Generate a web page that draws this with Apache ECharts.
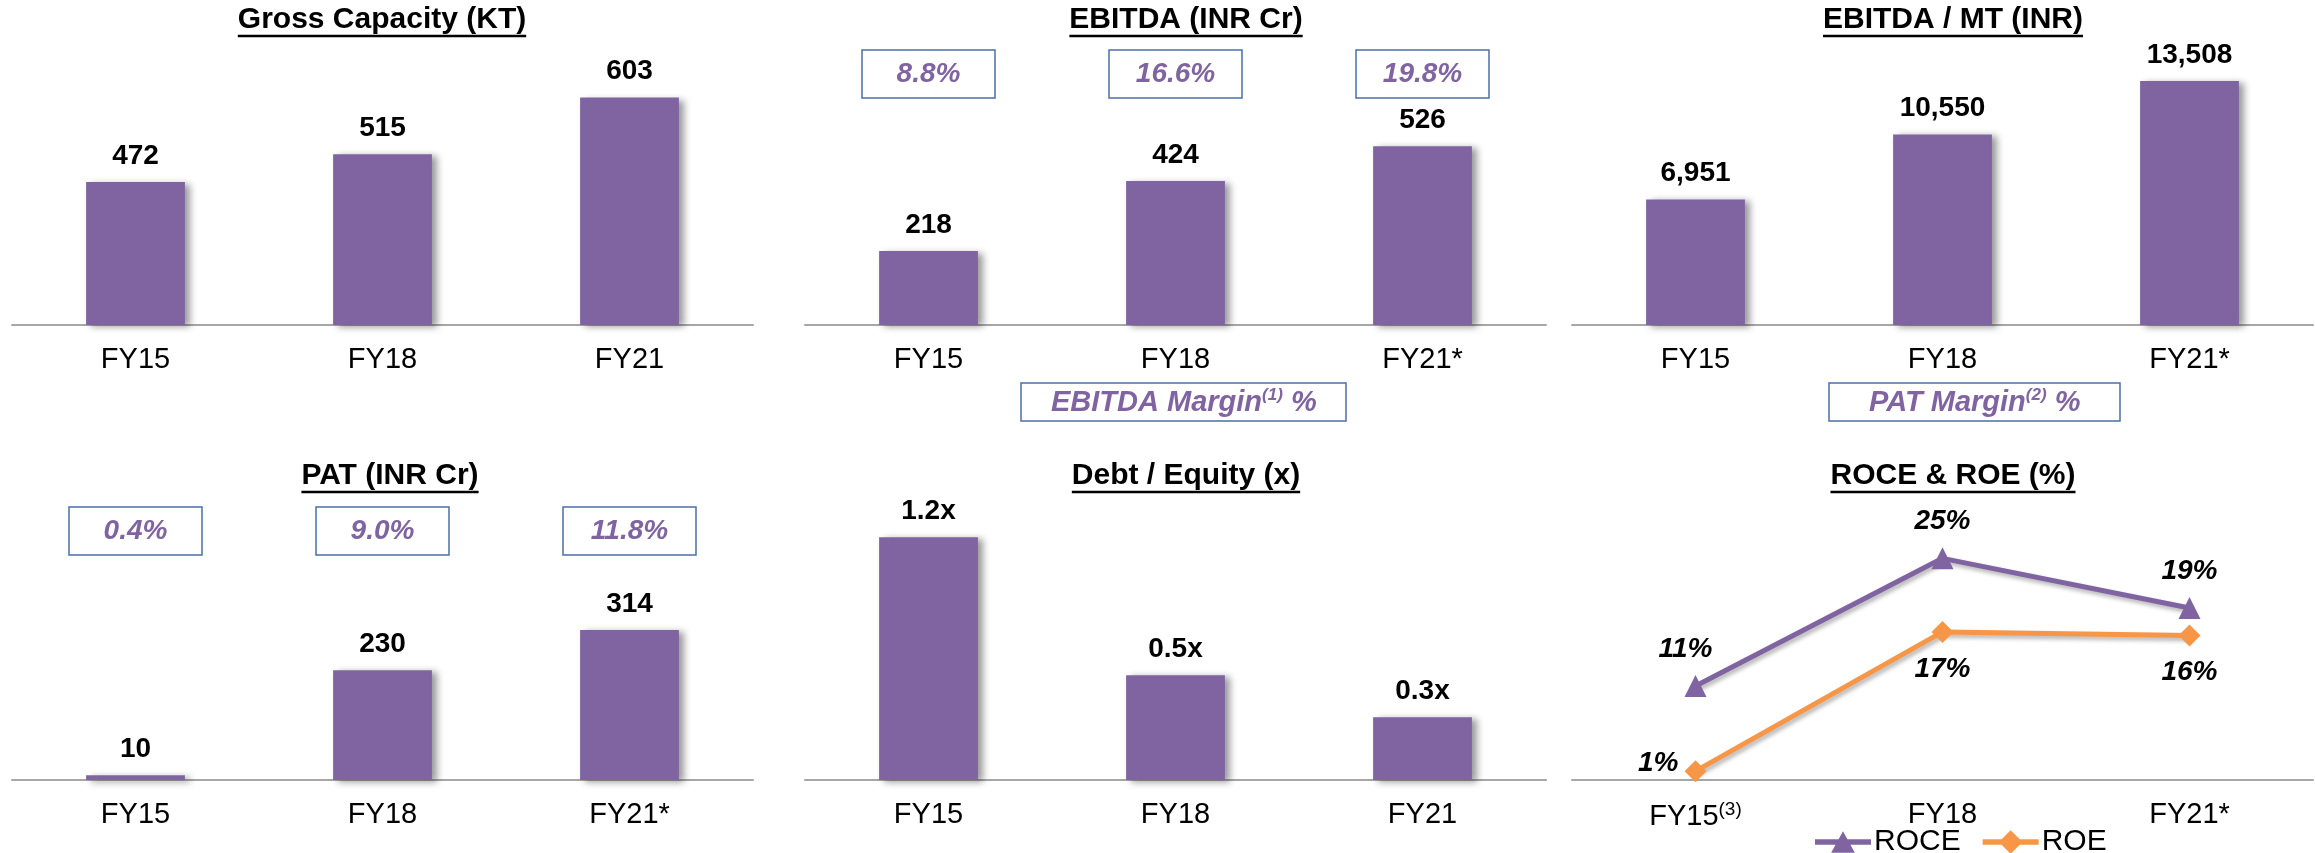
<!DOCTYPE html>
<html>
<head>
<meta charset="utf-8">
<title>Financial highlights</title>
<script src="https://cdn.jsdelivr.net/npm/echarts@6/dist/echarts.min.js"></script>
<style>
html, body { margin: 0; padding: 0; background: #fff; }
#chart { width: 2315px; height: 853px; }
</style>
</head>
<body>
<div id="chart"></div>
<script>
// ---- data ----
const years = ['FY15', 'FY18', 'FY21'];
const yearsStar = ['FY15', 'FY18', 'FY21*'];
const yearsRoce = ['FY15(3)', 'FY18', 'FY21*'];

const grossCapacity = [472, 515, 603];
const ebitda = [218, 424, 526];
const ebitdaMargin = [8.8, 16.6, 19.8];
const ebitdaPerMt = [6951, 10550, 13508];
const pat = [10, 230, 314];
const patMargin = [0.4, 9.0, 11.8];
const debtEquity = [1.16, 0.50, 0.30];
const roce = [10.6, 25.0, 19.4];
const roe = [1.0, 16.7, 16.3];

// ---- styles ----
const PURPLE = '#8064A2';
const ORANGE = '#F79646';
const BOXBLUE = '#4A6FA8';
const AXISGREY = '#A6A6A6';
const FONT = "'Liberation Sans', Arial, sans-serif";

const chart = echarts.init(document.getElementById('chart'));

// panel layout: left edge, top / bottom of the plot, title centre
const panels = [
    {title: 'Gross Capacity (KT)', cats: years, data: grossCapacity, min: 250, max: 700,
     left: 12, top: 35, bottom: 325, tx: 382, fmt: v => v},
    {title: 'EBITDA (INR Cr)', cats: yearsStar, data: ebitda, min: 0, max: 662,
     left: 805, top: 100, bottom: 325, tx: 1186, fmt: v => v, margins: ebitdaMargin},
    {title: 'EBITDA / MT (INR)', cats: yearsStar, data: ebitdaPerMt, min: 0, max: 16000,
     left: 1572, top: 36, bottom: 325, tx: 1953, fmt: v => v.toLocaleString('en-US')},
    {title: 'PAT (INR Cr)', cats: yearsStar, data: pat, min: 0, max: 467,
     left: 12, top: 557, bottom: 780, tx: 390, fmt: v => v, margins: patMargin},
    {title: 'Debt / Equity (x)', cats: years, data: debtEquity, min: 0, max: 1.4,
     left: 805, top: 487, bottom: 780, tx: 1186, fmt: v => v.toFixed(1) + 'x'},
    {title: 'ROCE & ROE (%)', cats: yearsRoce, line: true, min: 0, max: 30,
     left: 1572, top: 514, bottom: 780, tx: 1953}
];

const grids = [], xAxes = [], yAxes = [], series = [], titles = [], graphics = [];

const measure = document.createElement('canvas').getContext('2d');
measure.font = "bold 30px 'Liberation Sans', Arial, sans-serif";

const catLabel = {
    fontSize: 29,
    color: '#000',
    fontFamily: FONT,
    margin: 20,
    interval: 0,
    formatter: function (v) {
        const m = v.match(/^(.*?)(\(\d\))$/);
        return m ? '{a|' + m[1] + '}{s|' + m[2] + '}' : v;
    },
    rich: {
        a: {fontSize: 29, color: '#000', fontFamily: FONT},
        s: {fontSize: 19, color: '#000', fontFamily: FONT, verticalAlign: 'top', padding: [0, 0, 14, 0]}
    }
};

panels.forEach((p, i) => {
    grids.push({left: p.left, top: p.top, width: 741, height: p.bottom - p.top});

    xAxes.push({
        type: 'category',
        gridIndex: i,
        data: p.cats,
        axisLine: {lineStyle: {color: AXISGREY, width: 2}},
        axisTick: {length: 8, lineStyle: {color: AXISGREY, width: 2}},
        axisLabel: catLabel
    });
    yAxes.push({type: 'value', gridIndex: i, min: p.min, max: p.max, show: false, splitLine: {show: false}});

    if (p.margins) {
        xAxes.push({
            type: 'category',
            gridIndex: i,
            position: 'top',
            data: p.margins.map(v => v.toFixed(1) + '%'),
            axisLine: {show: false},
            axisTick: {show: false},
            axisLabel: {
                interval: 0,
                margin: 2,
                color: PURPLE,
                fontStyle: 'italic',
                fontWeight: 'bold',
                fontSize: 28,
                fontFamily: FONT,
                width: 133,
                height: 48,
                lineHeight: 48,
                align: 'center',
                borderColor: BOXBLUE,
                borderWidth: 1.5
            }
        });
    }

    const xIdx = xAxes.length - (p.margins ? 2 : 1);

    if (!p.line) {
        series.push({
            type: 'bar',
            xAxisIndex: xIdx,
            yAxisIndex: i,
            data: p.data,
            barWidth: '40%',
            itemStyle: {
                color: PURPLE,
                shadowColor: 'rgba(0, 0, 0, 0.4)',
                shadowBlur: 7,
                shadowOffsetX: 5,
                shadowOffsetY: 2
            },
            label: {
                show: true,
                position: 'top',
                distance: 12,
                color: '#000',
                fontSize: 28,
                fontWeight: 'bold',
                fontFamily: FONT,
                formatter: params => p.fmt(params.value)
            }
        });
    } else {
        const lineLabel = {
            show: true,
            color: '#000',
            fontSize: 28,
            fontWeight: 'bold',
            fontStyle: 'italic',
            fontFamily: FONT,
            distance: 12,
            formatter: params => Math.round(params.value) + '%'
        };
        const shadow = {shadowColor: 'rgba(0, 0, 0, 0.3)', shadowBlur: 4, shadowOffsetX: 2, shadowOffsetY: 3};
        series.push({
            name: 'ROCE',
            type: 'line',
            xAxisIndex: xIdx,
            yAxisIndex: i,
            data: roce.map((v, k) => k === 0 ? {value: v, label: {offset: [-10, 0]}} : v),
            clip: false,
            symbol: 'triangle',
            symbolSize: 22,
            itemStyle: {color: PURPLE},
            lineStyle: Object.assign({color: PURPLE, width: 5}, shadow),
            label: Object.assign({position: 'top'}, lineLabel)
        });
        series.push({
            name: 'ROE',
            type: 'line',
            xAxisIndex: xIdx,
            yAxisIndex: i,
            data: roe.map((v, k) => k === 0 ? {value: v, label: {position: 'left', distance: 6, offset: [0, -8]}} : v),
            clip: false,
            symbol: 'diamond',
            symbolSize: 22,
            itemStyle: {color: ORANGE},
            lineStyle: Object.assign({color: ORANGE, width: 5}, shadow),
            label: Object.assign({position: 'bottom'}, lineLabel)
        });
    }

    const row = p.bottom < 500 ? 0 : 1;
    titles.push({
        text: p.title,
        left: p.tx,
        top: row === 0 ? 5 : 461,
        textAlign: 'center',
        padding: 0,
        textStyle: {fontSize: 30, fontWeight: 'bold', color: '#000', fontFamily: FONT}
    });
    const w = measure.measureText(p.title).width;
    const uy = row === 0 ? 36 : 492;
    graphics.push({
        type: 'line',
        shape: {x1: p.tx - w / 2, y1: uy, x2: p.tx + w / 2, y2: uy},
        style: {stroke: '#000', lineWidth: 2.5}
    });
});

// caption boxes under the top row
const captionRich = {
    t: {fontSize: 29, fontWeight: 'bold', fontStyle: 'italic', color: PURPLE, fontFamily: FONT, lineHeight: 32},
    s: {fontSize: 17, fontWeight: 'bold', fontStyle: 'italic', color: PURPLE, fontFamily: FONT, verticalAlign: 'top', padding: [0, 0, 12, 0]}
};
titles.push({
    text: '{t|EBITDA Margin}{s|(1)}{t| %}',
    left: 1021, top: 383,
    padding: [4, 30],
    borderColor: BOXBLUE, borderWidth: 1.5,
    textStyle: {rich: captionRich}
});
titles.push({
    text: '{t|PAT Margin}{s|(2)}{t| %}',
    left: 1829, top: 383,
    padding: [4, 40],
    borderColor: BOXBLUE, borderWidth: 1.5,
    textStyle: {rich: captionRich}
});

// legend icons: thick line with the series marker in the middle
const roceIcon = 'path://M2,9.5 L54,9.5 L54,14.5 L2,14.5 Z M17,22 L28,2 L39,22 Z';
const roeIcon = 'path://M2,9.5 L54,9.5 L54,14.5 L2,14.5 Z M28,1 L39,12 L28,23 L17,12 Z';

const option = {
    animation: false,
    backgroundColor: '#fff',
    title: titles,
    grid: grids,
    xAxis: xAxes,
    yAxis: yAxes,
    series: series,
    legend: {
        data: [{name: 'ROCE', icon: roceIcon}, {name: 'ROE', icon: roeIcon}],
        left: 1810,
        top: 822,
        itemWidth: 56,
        itemHeight: 24,
        itemGap: 22,
        textStyle: {fontSize: 30, color: '#000', fontFamily: FONT, padding: [0, 0, 0, -2]}
    },
    graphic: graphics
};

chart.setOption(option);
</script>
</body>
</html>
